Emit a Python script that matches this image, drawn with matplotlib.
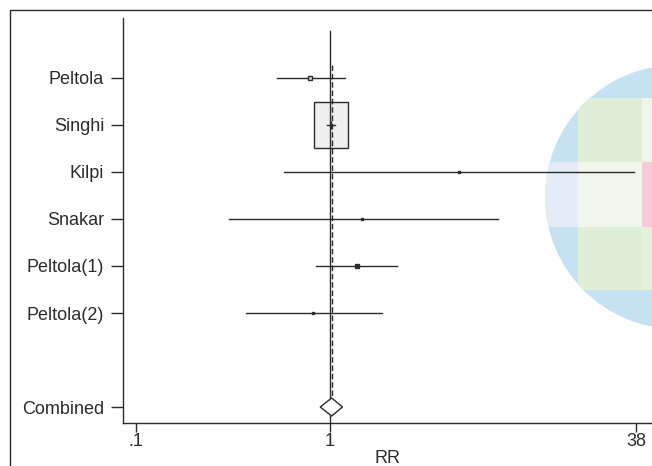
import matplotlib.pyplot as plt
import matplotlib.patches as mpatches
import numpy as np

# Dados (RR e IC 95%)
##################################################################
estudos = ["Peltola", "Singhi", "Kilpi", "Snakar", "Peltola(1)", "Peltola(2)"]
rr = [0.79, 1.01, 4.62, 1.47, 1.37, 0.82]
ic_inf = [0.53, 0.96, 0.58, 0.30, 0.85, 0.37]
ic_sup = [1.20, 1.06, 36.9, 7.35, 2.21, 1.85]

comb_rr = 1.02
comb_inf = 0.89
comb_sup = 1.16

x_ticks = [0.1, 1, 38]
x_labels = [".1", "1", "38"]

plt.rcParams['font.family'] = ['Liberation Sans', 'DejaVu Sans']
cor = "#2b2b2b"
fs = 13

fig = plt.figure(figsize=(6.52, 4.66), dpi=100)

# Fundo (moldura e mancha colorida) em coordenadas de pixel
##################################################################
fundo = fig.add_axes([0, 0, 1, 1], zorder=0)
fundo.set_xlim(0, 652)
fundo.set_ylim(466, 0)
fundo.axis("off")
circ = mpatches.Circle((677, 197), 132, facecolor="#c6e1f2", edgecolor="none")
fundo.add_patch(circ)
faixas = [
    (578, 98, 80, 192, "#dfeed6"),
    (545, 162, 33, 65, "#e4edf7"),
    (578, 162, 64, 65, "#f0f6ec"),
    (642, 98, 10, 64, "#eef5ea"),
    (642, 227, 10, 63, "#e6f1dc"),
    (642, 162, 10, 65, "#f5cbd9"),
]
for x0, y0, w, h, c in faixas:
    r = mpatches.Rectangle((x0, y0), w, h, facecolor=c, edgecolor="none")
    r.set_clip_path(circ)
    fundo.add_patch(r)
fundo.plot([9.5, 9.5, 652], [466, 9.5, 9.5], color=cor, lw=1.0)

# Grafico principal
##################################################################
ax = fig.add_axes([123 / 652, 43 / 466, 529 / 652, 405 / 466], zorder=1)
ax.patch.set_alpha(0)
ax.set_xscale("log")
ax.set_xlim(10 ** (-1 - 13 / 194), 10 ** (322 / 194))
ax.set_ylim(1 + 345 / 47, 1 - 60 / 47)

y = np.arange(1, len(estudos) + 1)

for i in range(len(estudos)):
    ax.plot([ic_inf[i], ic_sup[i]], [y[i], y[i]], color=cor, lw=1.0, zorder=3)

# caixa grande de Singhi
d = 17 / 194
ax.add_patch(mpatches.Rectangle((rr[1] / 10 ** d, y[1] - 0.49), rr[1] * 10 ** d - rr[1] / 10 ** d, 0.98,
                                facecolor="#efefef", edgecolor=cor, lw=1.0, zorder=2))
ax.plot(rr[1], y[1], marker="|", ms=6, color=cor, zorder=4)

ax.plot(rr[0], y[0], marker="s", ms=3.5, mfc="#dddddd", mec=cor, mew=1.0, zorder=4)
ax.plot(rr[4], y[4], marker="s", ms=3, color=cor, zorder=4)
for i in [2, 3, 5]:
    ax.plot(rr[i], y[i], marker="s", ms=1.5, color=cor, zorder=4)

# linha de nulidade e estimativa combinada
ax.plot([1, 1], [0, 9], color=cor, lw=1.0, zorder=5)
ax.plot([comb_rr, comb_rr], [0.72, 7.9], color=cor, lw=1.0, ls=(0, (4, 2)), zorder=5)

yc = len(estudos) + 2
h = 9 / 47
ax.add_patch(mpatches.Polygon([[comb_inf, yc], [comb_rr, yc - h], [comb_sup, yc], [comb_rr, yc + h]],
                              closed=True, facecolor="white", edgecolor=cor, lw=1.0, zorder=6))

ax.set_yticks(list(y) + [yc])
ax.set_yticklabels(estudos + ["Combined"])
ax.set_xticks(x_ticks)
ax.set_xticklabels(x_labels)
ax.xaxis.set_minor_locator(plt.NullLocator())
ax.set_xlabel("RR", fontsize=fs, color=cor, labelpad=0)

for s in ["top", "right"]:
    ax.spines[s].set_visible(False)
for s in ["left", "bottom"]:
    ax.spines[s].set_color(cor)
    ax.spines[s].set_linewidth(1.0)
ax.tick_params(axis="y", length=8.5, width=1.0, color=cor, pad=5, labelsize=fs, labelcolor=cor)
ax.tick_params(axis="x", length=6.5, width=1.0, color=cor, pad=1, labelsize=fs, labelcolor=cor)

plt.savefig("out.png", dpi=100)
